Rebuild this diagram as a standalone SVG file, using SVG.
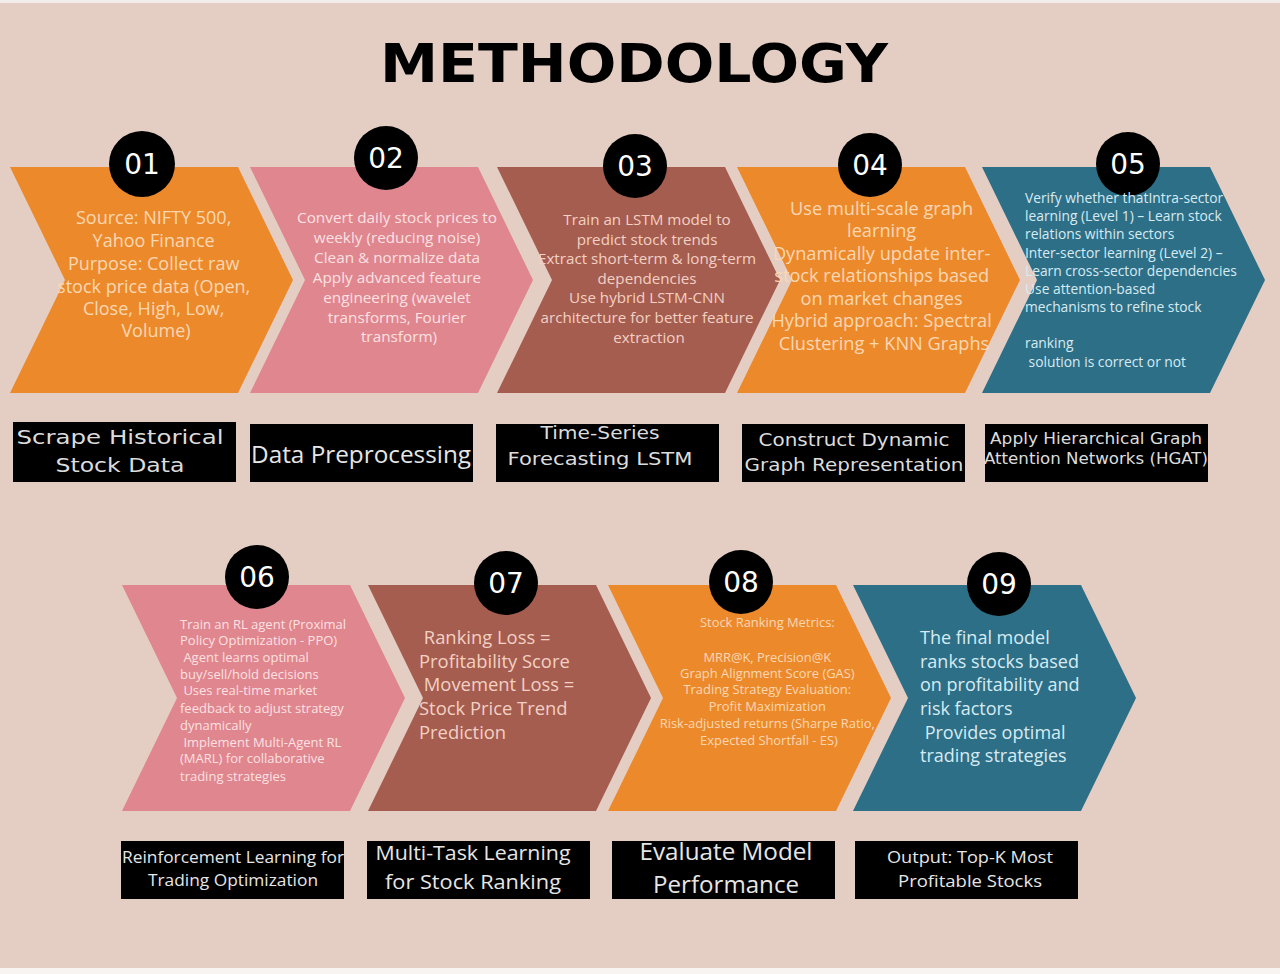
<svg xmlns="http://www.w3.org/2000/svg" xmlns:xlink="http://www.w3.org/1999/xlink" width="1280" height="974" viewBox="0 0 1280 974">
<style>
.bg{fill:#e4cec4}
.orange{fill:#ec8a2b}
.pink{fill:#df868f}
.brown{fill:#a55d50}
.teal{fill:#2e6f88}
.num{font-family:"DejaVu Sans","Noto Sans",sans-serif;font-size:28px;fill:#ffffff;text-anchor:middle}
.t{font-family:"Open Sans","Noto Sans",sans-serif}
.to{fill:#fbd7b3}
.tp{fill:#fde1e2}
.tb{fill:#f3d0c3}
.tt{fill:#d6ebf2}
.lbl{fill:#000000}
.lt{font-family:"DejaVu Sans","Noto Sans",sans-serif;fill:#dcdcdc;text-anchor:middle}
.lt2{font-family:"Open Sans","Noto Sans",sans-serif;fill:#e6e6e6;text-anchor:middle}
</style>
<defs>
<polygon id="chev" points="0,0 228,0 283,113 228,226 0,226 55,113"/>
</defs>
<rect class="bg" x="0" y="0" width="1280" height="974"/>
<rect x="0" y="0" width="1280" height="3" fill="#f2ecea"/>
<rect x="0" y="968" width="1280" height="6" fill="#f7f4f2"/>
<text x="634" y="82" font-family="DejaVu Sans,sans-serif" font-weight="bold" font-size="54" text-anchor="middle" textLength="508" lengthAdjust="spacingAndGlyphs" fill="#000">METHODOLOGY</text>

<g id="connectors"></g>

<g id="step01">
<use xlink:href="#chev" x="10" y="167" class="orange"/>
<circle cx="142" cy="164" r="33" fill="#000"/>
<text class="num" x="142" y="174">01</text>
<text class="t to" font-size="18" text-anchor="middle">
<tspan x="156" y="224">Source: NIFTY 500,</tspan>
<tspan x="156" y="247">Yahoo Finance</tspan>
<tspan x="156" y="270">Purpose: Collect raw</tspan>
<tspan x="156" y="293">stock price data (Open,</tspan>
<tspan x="156" y="315">Close, High, Low,</tspan>
<tspan x="156" y="337">Volume)</tspan>
</text>
<rect class="lbl" x="13" y="422" width="223" height="60"/>
<text class="lt" font-size="20"><tspan x="120" y="444" textLength="207" lengthAdjust="spacingAndGlyphs">Scrape Historical</tspan><tspan x="120" y="472" textLength="129" lengthAdjust="spacingAndGlyphs">Stock Data</tspan></text>
</g>

<g id="step02">
<use xlink:href="#chev" x="250" y="167" class="pink"/>
<circle cx="386" cy="158" r="32" fill="#000"/>
<text class="num" x="386" y="168">02</text>
<text class="t tp" font-size="15.3" text-anchor="middle">
<tspan x="399" y="223">Convert daily stock prices to</tspan>
<tspan x="399" y="243">weekly (reducing noise)</tspan>
<tspan x="399" y="263">Clean &amp; normalize data</tspan>
<tspan x="399" y="283">Apply advanced feature</tspan>
<tspan x="399" y="303">engineering (wavelet</tspan>
<tspan x="399" y="323">transforms, Fourier</tspan>
<tspan x="399" y="342">transform)</tspan>
</text>
<rect class="lbl" x="250" y="424" width="223" height="58"/>
<text class="lt2" font-size="23"><tspan x="361" y="463" textLength="220" lengthAdjust="spacingAndGlyphs">Data Preprocessing</tspan></text>
</g>

<g id="step03">
<use xlink:href="#chev" x="497" y="167" class="brown"/>
<circle cx="635" cy="166" r="32" fill="#000"/>
<text class="num" x="635" y="176">03</text>
<text class="t tb" font-size="15.2" text-anchor="middle">
<tspan x="649" y="225">Train an LSTM model to</tspan>
<tspan x="649" y="245">predict stock trends</tspan>
<tspan x="649" y="264">Extract short-term &amp; long-term</tspan>
<tspan x="649" y="284">dependencies</tspan>
<tspan x="649" y="303">Use hybrid LSTM-CNN</tspan>
<tspan x="649" y="323">architecture for better feature</tspan>
<tspan x="649" y="343">extraction</tspan>
</text>
<rect class="lbl" x="496" y="424" width="223" height="58"/>
<text class="lt" font-size="17"><tspan x="600" y="439" textLength="119" lengthAdjust="spacingAndGlyphs">Time-Series</tspan><tspan x="600" y="465" textLength="185" lengthAdjust="spacingAndGlyphs">Forecasting  LSTM</tspan></text>
</g>

<g id="step04">
<use xlink:href="#chev" x="737" y="167" class="orange"/>
<circle cx="870" cy="165" r="32" fill="#000"/>
<text class="num" x="870" y="175">04</text>
<text class="t to" font-size="18.2" text-anchor="middle">
<tspan x="884" y="215">Use multi-scale graph</tspan>
<tspan x="884" y="237">learning</tspan>
<tspan x="884" y="260">Dynamically update inter-</tspan>
<tspan x="884" y="282">stock relationships based</tspan>
<tspan x="884" y="305">on market changes</tspan>
<tspan x="884" y="327">Hybrid approach: Spectral</tspan>
<tspan x="884" y="350">Clustering + KNN Graphs</tspan>
</text>
<rect class="lbl" x="742" y="424" width="223" height="58"/>
<text class="lt" font-size="17"><tspan x="854" y="446" textLength="191" lengthAdjust="spacingAndGlyphs">Construct Dynamic</tspan><tspan x="854" y="471" textLength="219" lengthAdjust="spacingAndGlyphs">Graph Representation</tspan></text>
</g>

<g id="step05">
<use xlink:href="#chev" x="982" y="167" class="teal"/>
<circle cx="1128" cy="164" r="32" fill="#000"/>
<text class="num" x="1128" y="174">05</text>
<text class="t tt" font-size="13.8">
<tspan x="1025" y="203">Verify whether thatIntra-sector</tspan>
<tspan x="1025" y="221">learning (Level 1) – Learn stock</tspan>
<tspan x="1025" y="239">relations within sectors</tspan>
<tspan x="1025" y="258">Inter-sector learning (Level 2) –</tspan>
<tspan x="1025" y="276">Learn cross-sector dependencies</tspan>
<tspan x="1025" y="294">Use attention-based</tspan>
<tspan x="1025" y="312">mechanisms to refine stock</tspan>
<tspan x="1025" y="348">ranking</tspan>
<tspan x="1025" y="367">&#160;solution is correct or not</tspan>
</text>
<rect class="lbl" x="985" y="424" width="223" height="58"/>
<text class="lt" font-size="15"><tspan x="1096" y="444" textLength="212" lengthAdjust="spacingAndGlyphs">Apply Hierarchical Graph</tspan><tspan x="1096" y="464" textLength="224" lengthAdjust="spacingAndGlyphs">Attention Networks (HGAT)</tspan></text>
</g>

<g id="step06">
<use xlink:href="#chev" x="122" y="585" class="pink"/>
<circle cx="257" cy="577" r="32" fill="#000"/>
<text class="num" x="257" y="587">06</text>
<text class="t tp" font-size="13">
<tspan x="180" y="629">Train an RL agent (Proximal</tspan>
<tspan x="180" y="645">Policy Optimization - PPO)</tspan>
<tspan x="180" y="662">&#160;Agent learns optimal</tspan>
<tspan x="180" y="679">buy/sell/hold decisions</tspan>
<tspan x="180" y="695">&#160;Uses real-time market</tspan>
<tspan x="180" y="713">feedback to adjust strategy</tspan>
<tspan x="180" y="730">dynamically</tspan>
<tspan x="180" y="747">&#160;Implement Multi-Agent RL</tspan>
<tspan x="180" y="763">(MARL) for collaborative</tspan>
<tspan x="180" y="781">trading strategies</tspan>
</text>
<rect class="lbl" x="121" y="841" width="223" height="58"/>
<text class="lt2" font-size="16"><tspan x="233" y="863" textLength="222" lengthAdjust="spacingAndGlyphs">Reinforcement Learning for</tspan><tspan x="233" y="886" textLength="170" lengthAdjust="spacingAndGlyphs">Trading Optimization</tspan></text>
</g>

<g id="step07">
<use xlink:href="#chev" x="368" y="585" class="brown"/>
<circle cx="506" cy="583" r="32" fill="#000"/>
<text class="num" x="506" y="593">07</text>
<text class="t tb" font-size="18.4">
<tspan x="419" y="644">&#160;Ranking Loss =</tspan>
<tspan x="419" y="668">Profitability Score</tspan>
<tspan x="419" y="691">&#160;Movement Loss =</tspan>
<tspan x="419" y="715">Stock Price Trend</tspan>
<tspan x="419" y="739">Prediction</tspan>
</text>
<rect class="lbl" x="367" y="841" width="223" height="58"/>
<text class="lt2" font-size="20"><tspan x="473" y="860" textLength="195" lengthAdjust="spacingAndGlyphs">Multi-Task Learning</tspan><tspan x="473" y="889" textLength="176" lengthAdjust="spacingAndGlyphs">for Stock Ranking</tspan></text>
</g>

<g id="step08">
<use xlink:href="#chev" x="608" y="585" class="orange"/>
<circle cx="741" cy="582" r="32" fill="#000"/>
<text class="num" x="741" y="592">08</text>
<text class="t to" font-size="12.9" text-anchor="middle">
<tspan x="769" y="627">Stock Ranking Metrics:</tspan>
<tspan x="769" y="662">MRR@K, Precision@K</tspan>
<tspan x="769" y="678">Graph Alignment Score (GAS)</tspan>
<tspan x="769" y="694">Trading Strategy Evaluation:</tspan>
<tspan x="769" y="711">Profit Maximization</tspan>
<tspan x="769" y="728">Risk-adjusted returns (Sharpe Ratio,</tspan>
<tspan x="769" y="745">Expected Shortfall - ES)</tspan>
</text>
<rect class="lbl" x="612" y="841" width="223" height="58"/>
<text class="lt2" font-size="23"><tspan x="726" y="860" textLength="173" lengthAdjust="spacingAndGlyphs">Evaluate Model</tspan><tspan x="726" y="893" textLength="146" lengthAdjust="spacingAndGlyphs">Performance</tspan></text>
</g>

<g id="step09">
<use xlink:href="#chev" x="853" y="585" class="teal"/>
<circle cx="999" cy="584" r="32" fill="#000"/>
<text class="num" x="999" y="594">09</text>
<text class="t tt" font-size="18">
<tspan x="920" y="644">The final model</tspan>
<tspan x="920" y="668">ranks stocks based</tspan>
<tspan x="920" y="691">on profitability and</tspan>
<tspan x="920" y="715">risk factors</tspan>
<tspan x="920" y="739">&#160;Provides optimal</tspan>
<tspan x="920" y="762">trading strategies</tspan>
</text>
<rect class="lbl" x="855" y="841" width="223" height="58"/>
<text class="lt2" font-size="17"><tspan x="970" y="863" textLength="166" lengthAdjust="spacingAndGlyphs">Output: Top-K Most</tspan><tspan x="970" y="887" textLength="144" lengthAdjust="spacingAndGlyphs">Profitable Stocks</tspan></text>
</g>
</svg>
